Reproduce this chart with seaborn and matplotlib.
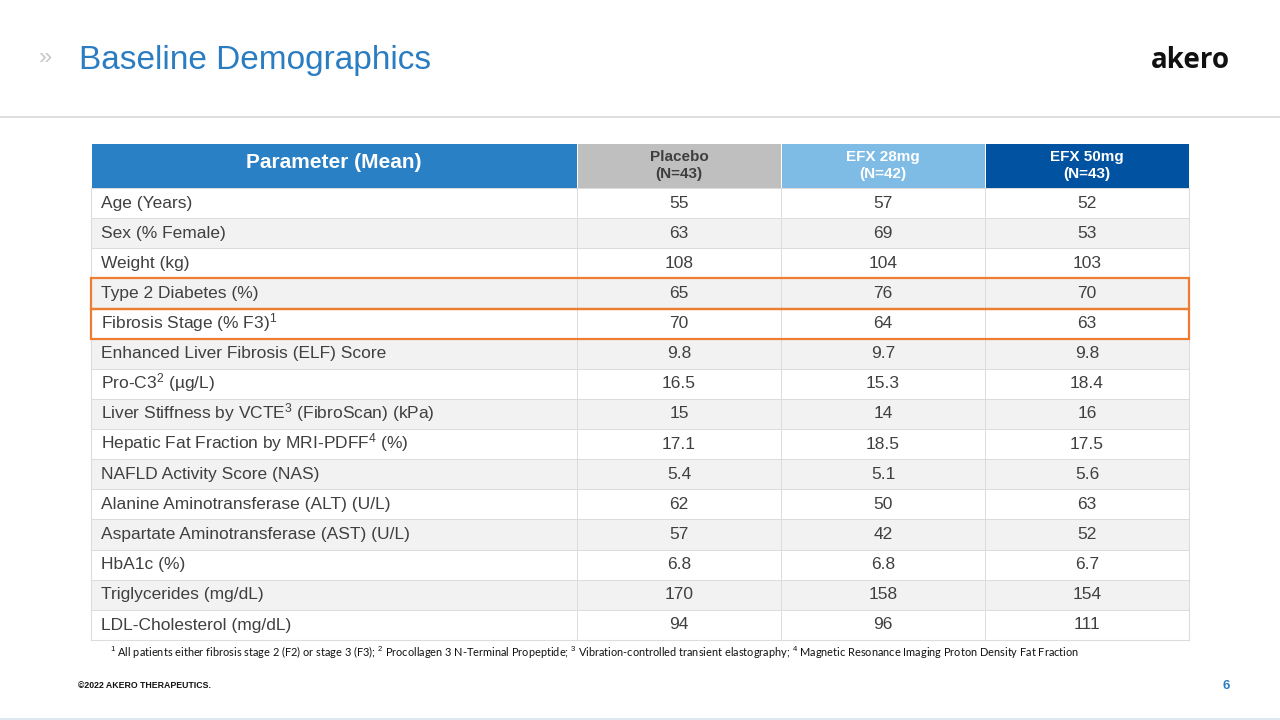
import numpy as np
import matplotlib
matplotlib.use("Agg")
import matplotlib.pyplot as plt
import seaborn as sns
from matplotlib.colors import ListedColormap
from matplotlib.patches import Rectangle

# ---------------- data ----------------
parameters = [
    "Age (Years)",
    "Sex (% Female)",
    "Weight (kg)",
    "Type 2 Diabetes (%)",
    r"Fibrosis Stage (% F3)$^{1}$",
    "Enhanced Liver Fibrosis (ELF) Score",
    r"Pro-C3$^{2}$ (µg/L)",
    r"Liver Stiffness by VCTE$^{3}$ (FibroScan) (kPa)",
    r"Hepatic Fat Fraction by MRI-PDFF$^{4}$ (%)",
    "NAFLD Activity Score (NAS)",
    "Alanine Aminotransferase (ALT) (U/L)",
    "Aspartate Aminotransferase (AST) (U/L)",
    "HbA1c (%)",
    "Triglycerides (mg/dL)",
    "LDL-Cholesterol (mg/dL)",
]
groups = ["Placebo", "EFX 28mg", "EFX 50mg"]
group_n = [43, 42, 43]
placebo = [55, 63, 108, 65, 70, 9.8, 16.5, 15, 17.1, 5.4, 62, 57, 6.8, 170, 94]
efx28 = [57, 69, 104, 76, 64, 9.7, 15.3, 14, 18.5, 5.1, 50, 42, 6.8, 158, 96]
efx50 = [52, 53, 103, 70, 63, 9.8, 18.4, 16, 17.5, 5.6, 63, 52, 6.7, 154, 111]
highlighted = ["Type 2 Diabetes (%)", r"Fibrosis Stage (% F3)$^{1}$"]

title = "Baseline Demographics"
footnote = (r"$^{1}$ All patients either fibrosis stage 2 (F2) or stage 3 (F3); "
            r"$^{2}$ Procollagen 3 N-Terminal Propeptide; "
            r"$^{3}$ Vibration-controlled transient elastography; "
            r"$^{4}$ Magnetic Resonance Imaging Proton Density Fat Fraction")
footer = "©2022 AKERO THERAPEUTICS."
page = "6"

# ---------------- style ----------------
sns.set_theme(style="white")
plt.rcParams["font.family"] = ["Liberation Sans", "DejaVu Sans"]
plt.rcParams["mathtext.fontset"] = "custom"
plt.rcParams["mathtext.rm"] = "Liberation Sans"
plt.rcParams["mathtext.it"] = "Liberation Sans:italic"
plt.rcParams["mathtext.bf"] = "Liberation Sans:bold"

TEXT = "#404040"
GRID = "#DCDCDC"
ROW_ALT = "#F2F2F2"
HEAD_PARAM = "#2A80C4"
HEAD_COLORS = ["#BFBFBF", "#7EBCE6", "#0153A1"]
HEAD_TEXT = ["#3F3F3F", "white", "white"]
TITLE_BLUE = "#2B7DC1"
ORANGE = "#ED7D31"

W, H = 1280, 720
fig = plt.figure(figsize=(W / 100, H / 100), dpi=100)
fig.patch.set_facecolor("white")


def frac(x0, y0, x1, y1):
    return [x0 / W, 1 - y1 / H, (x1 - x0) / W, (y1 - y0) / H]


X0, XS, X1 = 91, 577, 1189
Y_HEAD, Y_BODY, Y_END = 143, 188, 640
n_rows = len(parameters)
row_h = (Y_END - Y_BODY) / n_rows

ax_hl = fig.add_axes(frac(X0, Y_HEAD, XS, Y_BODY))
ax_hr = fig.add_axes(frac(XS, Y_HEAD, X1, Y_BODY))
ax_bl = fig.add_axes(frac(X0, Y_BODY, XS, Y_END))
ax_br = fig.add_axes(frac(XS, Y_BODY, X1, Y_END))

parity = np.array([[i % 2] for i in range(n_rows)])
values = np.column_stack([placebo, efx28, efx50])
labels = np.array([[f"{v:g}" for v in row] for row in values])
row_cmap = ListedColormap(["white", ROW_ALT])

# body: values
sns.heatmap(np.repeat(parity, 3, axis=1), ax=ax_br, cmap=row_cmap, vmin=0, vmax=1,
            cbar=False, annot=labels, fmt="",
            annot_kws=dict(color=TEXT, fontsize=12.5),
            linewidths=0.6, linecolor=GRID, xticklabels=False, yticklabels=False)

# body: parameter names
sns.heatmap(parity, ax=ax_bl, cmap=row_cmap, vmin=0, vmax=1, cbar=False,
            linewidths=0.6, linecolor=GRID, xticklabels=False, yticklabels=False)
baseline_off = 4.6 / row_h
for i, p in enumerate(parameters):
    ax_bl.text(10 / (XS - X0), i + 0.5 + baseline_off, p, ha="left", va="baseline",
               color=TEXT, fontsize=12.5)

# outer border of the body
for a, sides in ((ax_bl, ("left", "bottom")), (ax_br, ("right", "bottom"))):
    for s in sides:
        a.spines[s].set_visible(True)
        a.spines[s].set_color(GRID)
        a.spines[s].set_linewidth(0.8)

# header: groups
head_labels = np.array([[f"{g}\n(N={n})" for g, n in zip(groups, group_n)]])
sns.heatmap(np.array([[0, 1, 2]]), ax=ax_hr, cmap=ListedColormap(HEAD_COLORS),
            vmin=0, vmax=2, cbar=False, annot=head_labels, fmt="",
            annot_kws=dict(fontsize=11, fontweight="bold", linespacing=1.3),
            linewidths=0.6, linecolor="white", xticklabels=False, yticklabels=False)
for t, c in zip(ax_hr.texts, HEAD_TEXT):
    t.set_color(c)

# header: parameter
sns.heatmap(np.array([[0]]), ax=ax_hl, cmap=ListedColormap([HEAD_PARAM]),
            cbar=False, annot=np.array([["Parameter (Mean)"]]), fmt="",
            annot_kws=dict(fontsize=15, fontweight="bold", color="white"),
            linewidths=0.6, linecolor="white", xticklabels=False, yticklabels=False)
for t in ax_hl.texts:
    t.set_y(0.5 - 2.5 / (Y_BODY - Y_HEAD))

for a in (ax_hl, ax_hr, ax_bl, ax_br):
    a.set_xlabel("")
    a.set_ylabel("")

# ---------------- overlay (slide decorations) ----------------
ov = fig.add_axes([0, 0, 1, 1], zorder=10)
ov.set_xlim(0, W)
ov.set_ylim(H, 0)
ov.axis("off")
ov.patch.set_alpha(0)

ov.text(46, 58, "»", ha="center", va="center", color="#C8C8C8", fontsize=17)
ov.text(79, 69.5, title, ha="left", va="baseline", color=TITLE_BLUE, fontsize=24)
ov.plot([0, W], [117, 117], color="#D9D9D9", lw=1.2)

ov.text(1190, 61, "akero", ha="center", va="center", color="#111111",
        fontsize=20, fontweight="bold", family=["Open Sans", "DejaVu Sans"])

for name in highlighted:
    i = parameters.index(name)
    ov.add_patch(Rectangle((X0, Y_BODY + i * row_h), X1 - X0, row_h,
                           fill=False, ec=ORANGE, lw=1.6, clip_on=False))

ov.text(110, 652, footnote, ha="left", va="center", color="#111111",
        fontsize=7.95, family=["Lato", "DejaVu Sans"])

ov.text(78, 686, footer, ha="left", va="center", color="#111111",
        fontsize=6.3, fontweight="bold")
ov.text(1226, 686, page, ha="center", va="center", color=TITLE_BLUE,
        fontsize=9.5, fontweight="bold")
ov.plot([0, W], [719, 719], color="#D6E4EC", lw=1.2)

fig.savefig("out.png", dpi=100)
